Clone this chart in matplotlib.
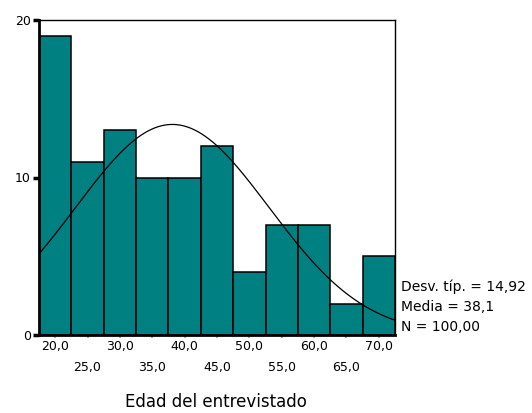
import numpy as np
import matplotlib.pyplot as plt

# Histogram data (age of respondent, 5-year bins)
bin_centers = [20, 25, 30, 35, 40, 45, 50, 55, 60, 65, 70]
counts = [19, 11, 13, 10, 10, 12, 4, 7, 7, 2, 5]
bin_width = 5
tick_labels = ["20,0", "25,0", "30,0", "35,0", "40,0", "45,0",
               "50,0", "55,0", "60,0", "65,0", "70,0"]

# Summary statistics shown next to the chart
std_dev = 14.92
mean = 38.1
n = 100

plt.rcParams['font.family'] = ['DejaVu Sans']

fig = plt.figure(figsize=(5.32, 4.13), dpi=100)
ax = fig.add_axes([39 / 532, (413 - 335) / 413, (395 - 39) / 532, (335 - 20) / 413])

ax.bar(bin_centers, counts, width=bin_width, color='#008080',
       edgecolor='black', linewidth=1.1, zorder=2)

# Normal curve scaled to the histogram
lo = bin_centers[0] - bin_width / 2
hi = bin_centers[-1] + bin_width / 2
xs = np.linspace(lo, hi, 200)
curve = n * bin_width / (std_dev * np.sqrt(2 * np.pi)) * np.exp(-0.5 * ((xs - mean) / std_dev) ** 2)
ax.plot(xs, curve, color='black', linewidth=0.9, zorder=3)

ax.set_xlim(lo, hi)
ax.set_ylim(0, 20)

ax.set_yticks([0, 10, 20])
ax.set_yticklabels(["0", "10", "20"], fontsize=9)
ax.tick_params(axis='y', direction='out', length=4, width=2.5, pad=2)

ax.set_xticks(bin_centers)
ax.set_xticklabels([])
ax.tick_params(axis='x', direction='out', length=2, width=1.2, color='#999999')
for i, (c, lab) in enumerate(zip(bin_centers, tick_labels)):
    off = 8 if i % 2 == 0 else 23.5
    ax.annotate(lab, xy=(c, 0), xycoords='data', xytext=(0, -off),
                textcoords='offset points', ha='center', va='center', fontsize=9)

for side in ['left', 'bottom']:
    ax.spines[side].set_linewidth(2)
for side in ['top', 'right']:
    ax.spines[side].set_linewidth(1)

fig.text(216 / 532, 1 - 402 / 413, "Edad del entrevistado", ha='center', va='center', fontsize=12)

stats = ["Desv. típ. = " + f"{std_dev:.2f}".replace('.', ','),
         "Media = " + f"{mean:.1f}".replace('.', ','),
         "N = " + f"{n:.2f}".replace('.', ',')]
for txt, y in zip(stats, [287, 307, 327]):
    fig.text(401 / 532, 1 - y / 413, txt, ha='left', va='center', fontsize=10)

fig.savefig("out.png", dpi=100)
